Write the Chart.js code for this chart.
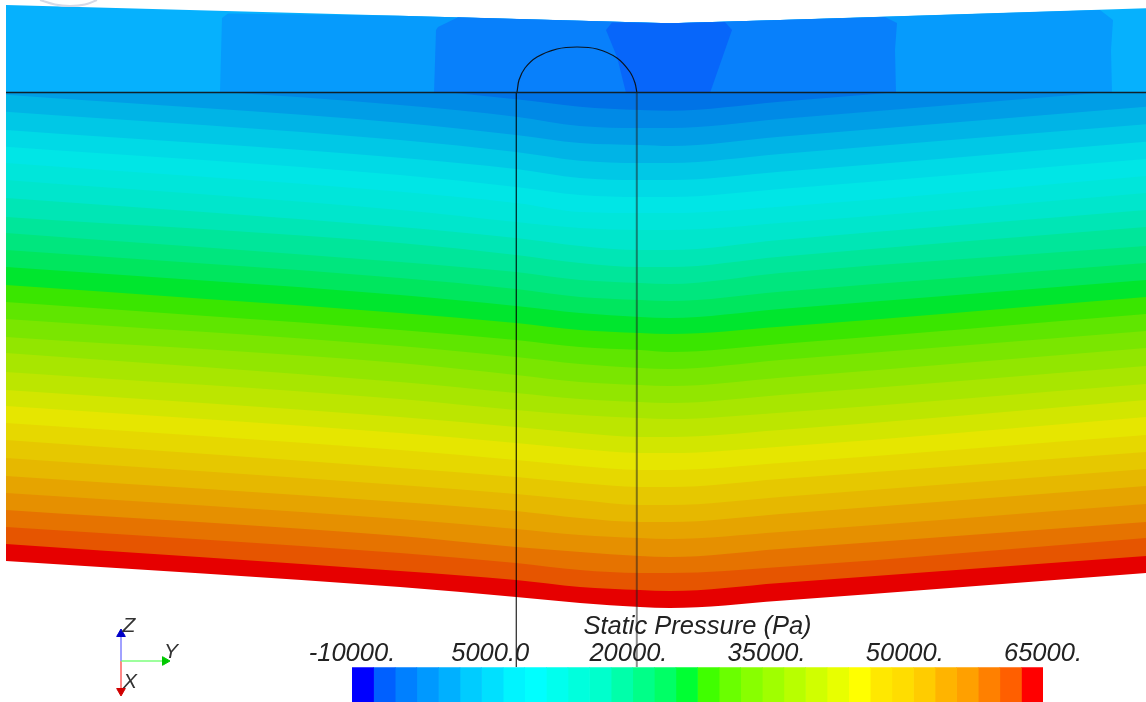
<!DOCTYPE html>
<html>
<head>
<meta charset="utf-8">
<title>Static Pressure</title>
<script src="https://cdn.jsdelivr.net/npm/chart.js@4"></script>
<style>
  html, body { margin: 0; padding: 0; background: #fff; overflow: hidden; width: 1146px; height: 702px; }
  canvas { position: absolute; left: 0; top: 0; }
</style>
</head>
<body>
<canvas id="field" width="1146" height="702"></canvas>
<!-- taller than the window: the scale box may only take half the free height -->
<canvas id="colorbar" width="1146" height="780"></canvas>
<script>
// stations along the section, and the lower edge of each contour band there
var stations = [6, 400, 516, 580, 640, 670, 780, 1146];
var edgesA = [61, 78, 94.7, 111.7, 130, 146.7, 163, 180, 198, 217, 233, 250, 267, 285, 302, 319, 337, 353, 372, 390, 406, 423, 440, 458, 476, 493, 510, 527, 544, 561];
var edgesB = [88, 105, 122.7, 140, 157.7, 175, 191.7, 210, 227, 243, 262, 278, 295, 313, 330, 346, 363, 382, 399, 417, 433, 450, 468, 485, 502, 519, 536, 553, 571, 587];
var edgesC = [99.3, 116.7, 135, 152, 169, 187, 203, 222, 238, 255, 272, 289, 306, 323, 340, 357, 375, 393, 410, 427, 443, 460, 477, 494, 511, 529, 547, 563, 580, 597];
var edgesD = [106.7, 126, 143, 160.7, 178, 195, 212, 228, 246, 263, 280, 297, 313, 330, 347, 364, 382, 399, 415, 433, 449, 466, 483, 500, 518, 535, 552, 570, 587, 603];
var edgesE = [110, 128, 145, 163, 180, 197, 213, 230, 250, 267, 283, 300, 317, 333, 350, 368, 385, 402, 418, 437, 453, 470, 487, 505, 522, 538, 556, 573, 590, 607];
var edgesF = [110.7, 128, 146, 163, 180, 197, 213, 230, 250, 267, 284, 301, 318, 334, 352, 369, 386, 403, 419, 437, 453, 470, 487, 505, 522, 539, 557, 573, 591, 608];
var edgesG = [101.7, 119, 136.7, 154, 171.7, 189, 206.7, 223, 240, 256.7, 273, 291.7, 309, 326.7, 344, 360, 377.7, 395, 412.7, 430, 446.7, 463, 479, 497, 514, 532, 549, 567, 583, 600.7];
var edgesH = [72, 89, 106.7, 124.3, 141.7, 159, 176, 193, 210, 227, 246, 263, 280, 297, 314, 331, 348, 366, 384, 400, 417, 435, 452, 469, 486, 504, 522, 538, 556, 573];
var stationEdges = [edgesA, edgesB, edgesC, edgesD, edgesE, edgesF, edgesG, edgesH];
var bandColors = ['#0073e6', '#008ae6', '#009ee6', '#00b4e6', '#00c8e6', '#00dae6', '#00e6e6', '#00e6da', '#00e6cc', '#00e6b5', '#00e69a', '#00e67e', '#00e65e', '#00e62e', '#3ae600', '#5fe600', '#7ae600', '#92e600', '#a8e600', '#bce600', '#d2e600', '#e6e600', '#e6d800', '#e6c800', '#e6b800', '#e6a400', '#e69000', '#e67300', '#e65500', '#e60000'];

// upper layer above the horizontal line
var splitY = 92.5;
var patchBaseX = [6, 6, 400, 670, 780, 1146, 1146, 6];
var patchBaseY = [93, 5, 15.7, 23.3, 20, 8.3, 93, 93];
var patch4X = [220, 222, 228, 400, 670, 780, 1100, 1113, 1111, 1112, 220];
var patch4Y = [93, 18, 13.5, 15.7, 23.3, 20, 10, 20, 50, 93, 93];
var patch3X = [434, 436, 438, 458, 670, 780, 885, 897, 895, 896, 434];
var patch3Y = [93, 30, 27, 17.3, 23.3, 20, 17, 23, 50, 93, 93];
var patch2X = [626, 617, 606, 612, 670, 725, 732, 710, 626];
var patch2Y = [93, 57, 30, 22.5, 23.3, 22, 30, 93, 93];
var patchColors = ['#06b1fd', '#069bfc', '#0880fb', '#0766fa'];

// probe outline
var probeX = [516.3, 516.3, 517, 519, 525, 537, 557, 577, 597, 617, 630, 635, 636.8, 636.8];
var probeY = [667, 93, 92, 80, 68, 57, 49, 47, 49, 58, 72, 83, 92, 667];
var rightWallX = [636.8, 636.8];
var rightWallY = [93, 667];

// orientation triad
var triadOrigin = [121, 661];
var triadTips = [[121, 634], [166, 661], [121, 688]];
var triadLineColors = ['#8a8aff', '#7dff7d', '#ff6a6a'];
var triadHeadColors = ['#0000c8', '#00c800', '#d00000'];
var triadHeadTurn = [0, 90, 180];
var triadHeads = [[121, 634], [165, 661], [121, 691]];
var triadNames = ['Z', 'Y', 'X'];
var triadNameAt = [[129, 626], [171, 652], [130, 682]];

// colour bar
var barTitle = 'Static Pressure (Pa)';
var barEdges = [-10000, -7656, -5312, -2969, -625, 1719, 4062, 6406, 8750, 11094, 13437, 15781, 18125, 20469, 22812, 25156, 27500, 29844, 32187, 34531, 36875, 39219, 41562, 43906, 46250, 48594, 50937, 53281, 55625, 57969, 60312, 62656, 65000];
var barColors = ['#0000ff', '#0060ff', '#0080ff', '#0099ff', '#00b0ff', '#00ccff', '#00e0ff', '#00f4ff', '#00ffff', '#00ffee', '#00ffdd', '#00ffcc', '#00ffaa', '#00ff88', '#00ff66', '#00ff33', '#40ff00', '#6aff00', '#88ff00', '#a0ff00', '#b8ff00', '#d0ff00', '#e8ff00', '#ffff00', '#ffe800', '#ffdd00', '#ffcc00', '#ffb400', '#ffa000', '#ff8000', '#ff5f00', '#ff0000'];
var barTicks = [-10000, 5000, 20000, 35000, 50000, 65000];
var barTickLabels = ['-10000.', '5000.0', '20000.', '35000.', '50000.', '65000.'];

function zip(xs, ys) {
  return xs.map(function (x, i) { return { x: x, y: ys[i] }; });
}

var datasets = [];

// first dataset is painted last, so the lines go first
datasets.push({ data: [{ x: 6, y: splitY }, { x: 1146, y: splitY }], borderColor: '#10202a', borderWidth: 1.4 });
datasets.push({ data: zip(probeX.slice(0, 2), probeY.slice(0, 2)), borderColor: 'rgba(0,0,0,0.8)', borderWidth: 1.3 });
datasets.push({ data: zip(probeX.slice(1, 13), probeY.slice(1, 13)), borderColor: '#0a1420', borderWidth: 1.2, tension: 0.3 });
datasets.push({ data: zip(rightWallX, rightWallY), borderColor: 'rgba(30,30,30,0.5)', borderWidth: 2 });

triadTips.forEach(function (tip, i) {
  datasets.push({
    data: [{ x: triadHeads[i][0], y: triadHeads[i][1] }],
    pointRadius: 5, pointStyle: 'triangle', pointRotation: triadHeadTurn[i],
    pointBackgroundColor: triadHeadColors[i], pointBorderColor: triadHeadColors[i], showLine: false
  });
  datasets.push({
    data: [{ x: triadOrigin[0], y: triadOrigin[1] }, { x: tip[0], y: tip[1] }],
    borderColor: triadLineColors[i], borderWidth: 1.6
  });
});

// faint arc clipped by the top of the picture
datasets.push({ data: [{ x: 40, y: 0 }, { x: 55, y: 4.5 }, { x: 70, y: 6 }, { x: 85, y: 4.5 }, { x: 97, y: 0 }], borderColor: '#d6d9e6', borderWidth: 2, tension: 0.4 });

var patches = [[patch2X, patch2Y, 3], [patch3X, patch3Y, 2], [patch4X, patch4Y, 1], [patchBaseX, patchBaseY, 0]];
patches.forEach(function (p) {
  datasets.push({ data: zip(p[0], p[1]), fill: 'shape', backgroundColor: patchColors[p[2]], borderWidth: 0 });
});

// top band first in the list, so lower bands are painted under it
bandColors.forEach(function (color, b) {
  datasets.push({
    data: stations.map(function (x, s) { return { x: x, y: stationEdges[s][b] }; }),
    fill: { value: splitY }, backgroundColor: color, borderWidth: 0, cubicInterpolationMode: 'monotone'
  });
});

var triadText = {
  id: 'triadText',
  afterDraw: function (chart) {
    var c = chart.ctx;
    c.save();
    c.font = 'italic 21px "Liberation Sans"';
    c.fillStyle = '#333';
    c.textAlign = 'center';
    c.textBaseline = 'middle';
    triadNames.forEach(function (name, i) {
      c.fillText(name, chart.scales.x.getPixelForValue(triadNameAt[i][0]), chart.scales.y.getPixelForValue(triadNameAt[i][1]));
    });
    c.restore();
  }
};

new Chart(document.getElementById('field').getContext('2d'), {
  type: 'scatter',
  data: { datasets: datasets },
  plugins: [triadText],
  options: {
    responsive: false,
    animation: false,
    showLine: true,
    layout: { padding: 0, autoPadding: false },
    elements: { point: { radius: 0 } },
    plugins: { legend: { display: false }, tooltip: { enabled: false } },
    scales: {
      x: { type: 'linear', min: 0, max: 1146, display: false },
      y: { type: 'linear', min: 0, max: 702, reverse: true, display: false }
    }
  }
});

var barSets = barColors.map(function (color, i) {
  return { data: [[barEdges[i], barEdges[i + 1]]], backgroundColor: color, borderWidth: 0, barPercentage: 1, categoryPercentage: 1, grouped: false };
});

new Chart(document.getElementById('colorbar').getContext('2d'), {
  type: 'bar',
  data: { labels: ['p'], datasets: barSets },
  options: {
    indexAxis: 'y',
    responsive: false,
    animation: false,
    layout: { padding: { left: 352, right: 103, top: 612, bottom: 0 }, autoPadding: false },
    plugins: { legend: { display: false }, tooltip: { enabled: false } },
    scales: {
      y: { display: false },
      x: {
        type: 'linear',
        position: 'top',
        min: -10000,
        max: 65000,
        border: { display: false },
        grid: { display: false, drawTicks: false },
        title: { display: true, text: barTitle, color: '#222', font: { family: 'Liberation Sans', style: 'italic', size: 25.5 }, padding: { top: 0, bottom: -2 } },
        afterBuildTicks: function (axis) {
          axis.ticks = barTicks.map(function (v) { return { value: v }; });
        },
        ticks: {
          autoSkip: false,
          maxRotation: 0,
          padding: -2,
          color: '#222',
          font: { family: 'Liberation Sans', style: 'italic', size: 25.5 },
          callback: function (value) { return barTickLabels[barTicks.indexOf(value)]; }
        }
      }
    }
  }
});
</script>
</body>
</html>
